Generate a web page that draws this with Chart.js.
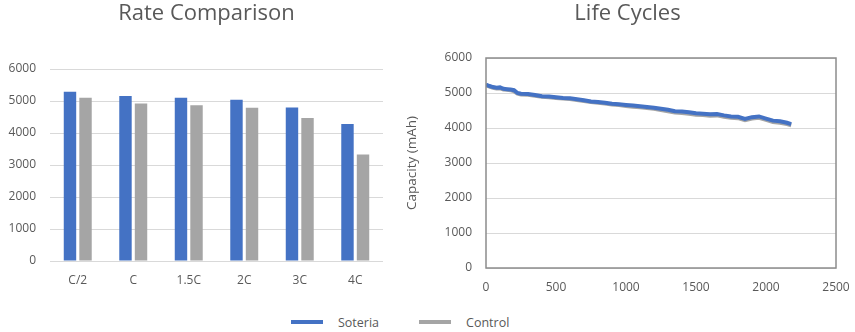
<!DOCTYPE html>
<html><head><meta charset="utf-8">
<script src="https://cdn.jsdelivr.net/npm/chart.js@4.4.1/dist/chart.umd.min.js"></script>
<style>
html,body{margin:0;padding:0;background:#fff}
body{width:855px;height:332px;overflow:hidden;position:relative;font-family:"Open Sans",sans-serif}
#c1{position:absolute;left:0;top:0}
#c2{position:absolute;left:400px;top:0}
#legend{position:absolute;top:313px;left:291px;height:18px;display:flex;align-items:center;color:#595959;font-size:12.5px}
.item{display:flex;align-items:center}
.swatch{width:32px;height:4px;margin-right:15px}
</style>
</head><body>
<canvas id="c1" width="413" height="300"></canvas>
<canvas id="c2" width="455" height="300"></canvas>
<div id="legend"></div>
<script>
// ---- data ----
const seriesNames = ['Soteria', 'Control'];
const rateLabels = ['C/2', 'C', '1.5C', '2C', '3C', '4C'];
const soteriaRate = [5290, 5155, 5100, 5040, 4800, 4280];
const controlRate = [5100, 4925, 4865, 4790, 4465, 3330];

const cycles = [0,25,50,75,100,125,150,175,200,225,250,300,350,400,450,500,550,600,650,700,750,800,850,900,950,1000,1050,1100,1150,1200,1250,1300,1350,1400,1450,1500,1550,1600,1650,1700,1750,1800,1850,1900,1950,2000,2050,2100,2150,2180];
const soteriaLife = [5240,5200,5170,5150,5160,5120,5110,5100,5080,5000,4980,4970,4940,4910,4900,4880,4860,4850,4820,4790,4760,4740,4720,4690,4680,4660,4640,4620,4600,4580,4550,4520,4480,4470,4450,4420,4410,4390,4400,4360,4330,4320,4260,4310,4330,4270,4210,4190,4150,4110];
const controlLife = [5220,5180,5150,5130,5130,5100,5090,5080,5050,4980,4960,4950,4920,4890,4880,4860,4840,4830,4800,4770,4740,4720,4700,4670,4660,4630,4610,4590,4570,4550,4510,4480,4440,4430,4410,4380,4370,4350,4360,4320,4290,4280,4220,4270,4290,4230,4170,4150,4110,4080];

const BLUE = '#4472C4', GRAY = '#A5A5A5', TEXT = '#595959', GRID = '#D9D9D9';
Chart.defaults.font.family = '"Open Sans", sans-serif';
Chart.defaults.color = TEXT;
const plain = v => String(v);

// ---- left: bar chart ----
new Chart(document.getElementById('c1'), {
  type: 'bar',
  data: {
    labels: rateLabels,
    datasets: [
      {label: seriesNames[0], data: soteriaRate, backgroundColor: BLUE},
      {label: seriesNames[1], data: controlRate, backgroundColor: GRAY}
    ]
  },
  options: {
    responsive: false, animation: false,
    categoryPercentage: 0.56, barPercentage: 0.8,
    layout: {padding: {right: 0}},
    plugins: {
      legend: {display: false}, tooltip: {enabled: false},
      title: {display: true, text: 'Rate Comparison', color: TEXT, font: {size: 22, weight: 'normal'}, padding: {top: 1, bottom: 41.6}}
    },
    scales: {
      x: {grid: {display: false}, border: {display: false},
          ticks: {color: TEXT, font: {size: 12}, padding: 4},
          afterFit: s => { s.height = 39; }},
      y: {min: 0, max: 6000, ticks: {stepSize: 1000, color: TEXT, font: {size: 12}, padding: 14, callback: plain},
          grid: {color: GRID, drawTicks: false}, border: {display: false},
          afterFit: s => { s.width = 50; }},
      ySpacer: {position: 'right', min: 0, max: 1, ticks: {display: false}, grid: {display: false}, border: {display: false},
          afterFit: s => { s.width = 30; }}
    }
  }
});

// ---- right: line chart ----
const boxBorder = {
  id: 'boxBorder',
  afterDatasetsDraw(chart) {
    const a = chart.chartArea, ctx = chart.ctx;
    ctx.save();
    ctx.strokeStyle = '#8C8C8C';
    ctx.lineWidth = 1.5;
    ctx.strokeRect(a.left, a.top, a.right - a.left, a.bottom - a.top);
    ctx.restore();
  }
};
new Chart(document.getElementById('c2'), {
  type: 'line',
  data: {
    datasets: [
      {label: seriesNames[0], data: cycles.map((c, i) => ({x: c, y: soteriaLife[i]})), borderColor: BLUE, borderWidth: 4, pointRadius: 0, tension: 0},
      {label: seriesNames[1], data: cycles.map((c, i) => ({x: c, y: controlLife[i]})), borderColor: GRAY, borderWidth: 4, pointRadius: 0, tension: 0}
    ]
  },
  options: {
    responsive: false, animation: false,
    layout: {padding: {right: 0}},
    plugins: {
      legend: {display: false}, tooltip: {enabled: false},
      title: {display: true, text: 'Life Cycles', color: TEXT, font: {size: 22, weight: 'normal'}, padding: {top: 1, bottom: 30.6}}
    },
    scales: {
      x: {type: 'linear', min: 0, max: 2500, ticks: {stepSize: 500, color: TEXT, font: {size: 12}, padding: 4, callback: plain},
          grid: {display: false}, border: {display: false},
          afterFit: s => { s.height = 32; }},
      y: {min: 0, max: 6000, ticks: {stepSize: 1000, color: TEXT, font: {size: 12}, padding: 14, callback: plain},
          grid: {color: GRID, drawTicks: false}, border: {display: false},
          title: {display: true, text: 'Capacity (mAh)', color: TEXT, font: {size: 13.5}, padding: {top: 4, bottom: 0}},
          afterFit: s => { s.width = 86; }},
      ySpacer: {position: 'right', min: 0, max: 1, ticks: {display: false}, grid: {display: false}, border: {display: false},
          afterFit: s => { s.width = 19; }}
    }
  },
  plugins: [boxBorder]
});

// ---- legend ----
const lg = document.getElementById('legend');
[[seriesNames[0], BLUE], [seriesNames[1], GRAY]].forEach(([n, c], i) => {
  const it = document.createElement('div');
  it.className = 'item';
  if (i > 0) it.style.marginLeft = '40px';
  it.innerHTML = '<div class="swatch" style="background:' + c + '"></div><span>' + n + '</span>';
  lg.appendChild(it);
});
</script>
</body></html>
